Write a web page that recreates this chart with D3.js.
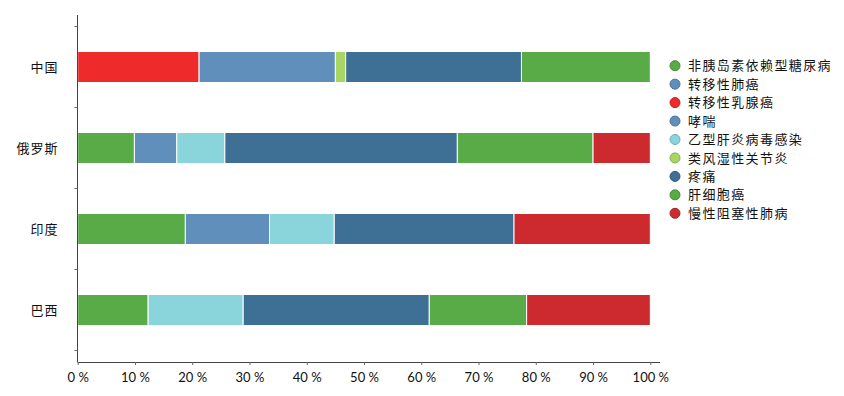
<!DOCTYPE html>
<html lang="zh">
<head>
<meta charset="UTF-8">
<title>疾病构成</title>
<script src="https://d3js.org/d3.v7.min.js"></script>
<style>
  body { margin: 0; background: #fff; }
  .cjk { font-family: "Noto Sans CJK SC", sans-serif; }
  .tick text { font-family: Lato, "Noto Sans", sans-serif; }
</style>
</head>
<body>
<div id="chart"></div>
<script>
// countries (top to bottom)
var countries = ["中国", "俄罗斯", "印度", "巴西"];

// legend / stacking order
var diseases = ["非胰岛素依赖型糖尿病", "转移性肺癌", "转移性乳腺癌", "哮喘",
                "乙型肝炎病毒感染", "类风湿性关节炎", "疼痛", "肝细胞癌", "慢性阻塞性肺病"];
var colors = ["#59ab47", "#5f8fba", "#ee2a2b", "#5f8fba",
              "#8ad4db", "#a9d562", "#3e6f95", "#59ab47", "#cc2a2e"];

// share (%) per country, same order as countries
var diabetes    = [0,    9.9, 18.8, 12.3];
var lungCancer  = [0,    7.4, 14.7, 0];
var breastCancer= [21.2, 0,   0,    0];
var asthma      = [23.8, 0,   0,    0];
var hepatitisB  = [0,    8.4, 11.3, 16.6];
var arthritis   = [1.8,  0,   0,    0];
var pain        = [30.7, 40.6, 31.4, 32.5];
var liverCancer = [22.5, 23.7, 0,   17.0];
var copd        = [0,    10.0, 23.8, 21.6];

var xTicks = [0, 0.1, 0.2, 0.3, 0.4, 0.5, 0.6, 0.7, 0.8, 0.9, 1];

var seriesValues = [diabetes, lungCancer, breastCancer, asthma, hepatitisB,
                    arthritis, pain, liverCancer, copd];

var table = countries.map(function(c, i) {
  var row = { country: c };
  diseases.forEach(function(d, j) { row[d] = seriesValues[j][i]; });
  return row;
});

var W = 844, H = 396;
var svg = d3.select("#chart").append("svg")
  .attr("width", W).attr("height", H);

var x = d3.scaleLinear().domain([0, 1]).range([77.7, 650.3]);
var y = d3.scaleBand().domain(countries).range([26.5, 350.5]).paddingInner(0).paddingOuter(0);
var barH = 31;
var color = d3.scaleOrdinal().domain(diseases).range(colors);

var stack = d3.stack().keys(diseases).offset(d3.stackOffsetExpand);
var series = stack(table);

svg.append("g")
  .selectAll("g")
  .data(series)
  .enter().append("g")
    .attr("fill", function(d) { return color(d.key); })
  .selectAll("rect")
  .data(function(d) { return d.filter(function(p) { return p[1] - p[0] > 0; }); })
  .enter().append("rect")
    .attr("x", function(d) { return x(d[0]); })
    .attr("width", function(d) { return x(d[1]) - x(d[0]); })
    .attr("y", function(d) { return y(d.data.country) + (y.bandwidth() - barH) / 2; })
    .attr("height", barH)
    .attr("stroke", "#fff")
    .attr("stroke-width", 1);

// x axis
var xAxis = svg.append("g")
  .attr("transform", "translate(0,362)")
  .call(d3.axisBottom(x).tickValues(xTicks).tickSize(3).tickSizeOuter(0)
    .tickFormat(function(d) { return Math.round(d * 100) + " %"; }));
xAxis.select(".domain").attr("d", "M77.5,0.5H660").attr("stroke", "#444");
xAxis.selectAll(".tick line").attr("stroke", "#666");
xAxis.selectAll(".tick text")
  .attr("font-size", 13).attr("fill", "#111").attr("dy", "1.05em");

// y axis: ticks at band boundaries
var yAxis = svg.append("g").attr("transform", "translate(77.5,0)");
yAxis.append("line")
  .attr("y1", 15).attr("y2", 362)
  .attr("stroke", "#444");
var bounds = countries.map(function(c) { return y(c); }).concat([y.range()[1]]);
yAxis.selectAll(".yt").data(bounds).enter().append("line")
  .attr("x1", -3).attr("x2", 0)
  .attr("y1", function(d) { return d; }).attr("y2", function(d) { return d; })
  .attr("stroke", "#666");
yAxis.selectAll(".yl").data(countries).enter().append("text")
  .attr("class", "cjk")
  .attr("x", -19)
  .attr("y", function(d) { return y(d) + y.bandwidth() / 2; })
  .attr("dy", "0.35em")
  .attr("text-anchor", "end")
  .attr("font-size", 13)
  .attr("letter-spacing", 1)
  .attr("fill", "#111")
  .text(function(d) { return d; });

// legend
var legend = svg.append("g");
var items = legend.selectAll("g").data(diseases).enter().append("g")
  .attr("transform", function(d, i) { return "translate(675," + (65.7 + i * 18.45) + ")"; });
items.append("circle")
  .attr("r", 5)
  .attr("fill", function(d) { return color(d); })
  .attr("stroke", function(d) { return d3.color(color(d)).darker(0.6); })
  .attr("stroke-width", 1);
items.append("text")
  .attr("class", "cjk")
  .attr("x", 13)
  .attr("dy", "0.35em")
  .attr("font-size", 13)
  .attr("letter-spacing", 1.4)
  .attr("fill", "#111")
  .text(function(d) { return d; });
</script>
</body>
</html>
